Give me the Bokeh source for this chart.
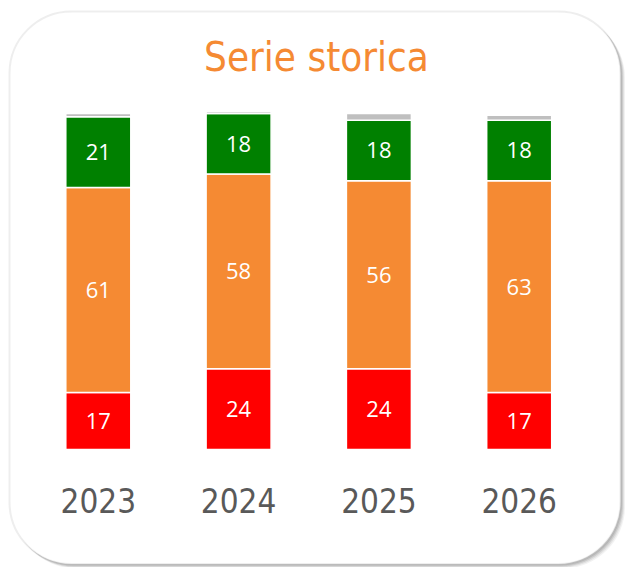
import numpy as np
from bokeh.plotting import figure
from bokeh.models import ColumnDataSource, Range1d, BoxAnnotation
from bokeh.core.properties import value
from bokeh.embed import file_html
from bokeh.resources import INLINE

# ---- data ----
years = [2023, 2024, 2025, 2026]
year_labels = ["2023", "2024", "2025", "2026"]
red_vals = [17, 24, 24, 17]
orange_vals = [61, 58, 56, 63]
green_vals = [21, 18, 18, 18]
gray_vals = [1, 0.6, 2, 1.5]
title_text = "Serie storica"

RED, ORANGE, GREEN, GRAY = "#FF0000", "#F58A33", "#008000", "#BFBFBF"
COND = "DejaVu Sans Condensed"

# ---- layout helpers (pixel -> data) ----
W, H = 629, 567
Y0_PX = 449.0    # canvas y where value 0 sits
K = 3.36         # px per unit
C0 = 97.8        # canvas x of first bar centre
STEP = 140.3     # px per year

def sx(px):
    return years[0] + (px - C0) / STEP

def sy(py):
    return (Y0_PX - py) / K

p = figure(width=W, height=H, output_backend="svg", toolbar_location=None,
           x_range=Range1d(sx(0), sx(W)), y_range=Range1d(sy(H), sy(0)),
           min_border=0, outline_line_color=None)
p.axis.visible = False
p.grid.visible = False
p.background_fill_color = "white"
p.border_fill_color = "white"

# rounded frame with soft shadow
L, R, T, B = 9.0, 620.0, 11.0, 563.5
for off, alpha in [(4.5, 0.10), (3.5, 0.15), (2.5, 0.22), (1.5, 0.28)]:
    p.add_layout(BoxAnnotation(left=sx(L + off), right=sx(R + off),
                               top=sy(T + off), bottom=sy(B + off),
                               fill_color="#808080", fill_alpha=alpha,
                               line_color=None, border_radius=62, level="underlay"))
p.add_layout(BoxAnnotation(left=sx(L), right=sx(R), top=sy(T), bottom=sy(B),
                           fill_color="white", fill_alpha=1.0,
                           line_color="#C8C8C8", line_width=2, border_radius=62,
                           level="underlay"))

src = ColumnDataSource(dict(x=years, red=red_vals, orange=orange_vals,
                            green=green_vals, gray=gray_vals))
p.vbar_stack(["red", "orange", "green", "gray"], x="x", width=65 / STEP, source=src,
             color=[RED, ORANGE, GREEN, GRAY], line_color="white", line_width=1.5)

# segment labels
r = np.array(red_vals, float)
o = np.array(orange_vals, float)
g = np.array(green_vals, float)
lx, ly, lt = [], [], []
for i, yr in enumerate(years):
    for bottom, v in [(0, r[i]), (r[i], o[i]), (r[i] + o[i], g[i])]:
        lx.append(yr)
        ly.append(bottom + v / 2)
        lt.append(str(int(v)))
p.text(x=lx, y=ly, text=lt, text_color="white", text_align="center",
       text_baseline="middle", text_font=value("Open Sans"), text_font_size="22px")

# year labels
p.text(x=years, y=[sy(499.5)] * 4, text=year_labels, text_color="#595959",
       text_align="center", text_baseline="middle",
       text_font=value(COND), text_font_size="33px")

# title
p.text(x=[sx(316)], y=[sy(56)], text=[title_text], text_color="#F58A33",
       text_align="center", text_baseline="middle",
       text_font=value(COND), text_font_size="40px")

open("out.html", "w").write(file_html(p, INLINE))
